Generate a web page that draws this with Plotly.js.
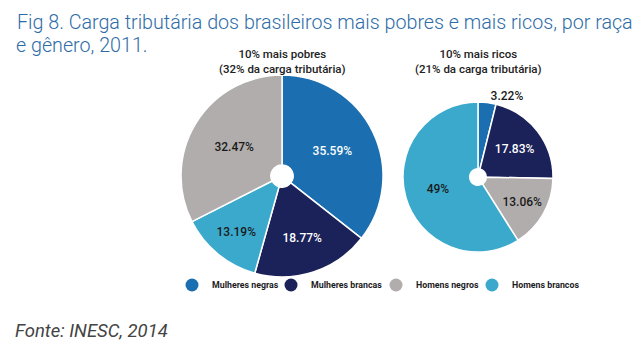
<!DOCTYPE html>
<html>
<head>
<meta charset="utf-8">
<script src="https://cdn.plot.ly/plotly-3.0.1.min.js"></script>
<style>html,body{margin:0;padding:0;background:#fff;}#chart{width:643px;height:353px;}</style>
</head>
<body>
<div id="chart"></div>
<script>
const categories = ["Mulheres negras", "Mulheres brancas", "Homens negros", "Homens brancos"];
const colors = ["#1b6fb1", "#1b2159", "#b1adac", "#3aa9cc"];
const poorValues = [35.59, 18.77, 32.47, 13.19];
const poorOrder = [0, 1, 3, 2]; // clockwise order from 12 o'clock
const richValues = [3.22, 17.83, 13.06, 49];
const richOrder = [0, 1, 2, 3];
const titleLine1 = "Fig 8. Carga tributária dos brasileiros mais pobres e mais ricos, por raça";
const titleLine2 = "e gênero, 2011.";
const poorTitle = "10% mais pobres<br>(32% da carga tributária)";
const richTitle = "10% mais ricos<br>(21% da carga tributária)";
const sourceText = "Fonte: INESC, 2014";
const textColors = ["#ffffff", "#ffffff", "#1a1a1a", "#1a1a1a"];
const legendCenters = [195, 294, 399, 495]; // pixel x of each legend marker

function pieTrace(values, order, domain, positions) {
  return {
    type: "pie",
    labels: order.map(i => categories[i]),
    values: order.map(i => values[i]),
    text: order.map(i => values[i] + "%"),
    textinfo: "text",
    hoverinfo: "label+text",
    sort: false,
    direction: "clockwise",
    rotation: 0,
    hole: 0.11,
    marker: {colors: order.map(i => colors[i]), line: {color: "#ffffff", width: 1.5}},
    textposition: positions,
    insidetextorientation: "horizontal",
    insidetextfont: {family: "Roboto", size: 12, weight: 500, color: order.map(i => textColors[i])},
    outsidetextfont: {family: "Roboto", size: 12, weight: 500, color: "#1a1a1a"},
    showlegend: false,
    domain: domain
  };
}

const traces = [
  pieTrace(poorValues, poorOrder, {x: [0.2815, 0.5957], y: [0.2153, 0.7875]}, "inside"),
  pieTrace(richValues, richOrder, {x: [0.6267, 0.86], y: [0.2861, 0.7111]}, ["outside", "inside", "inside", "inside"])
];
const legendNames = ["legend", "legend2", "legend3", "legend4"];
categories.forEach((c, i) => {
  traces.push({
    type: "scatter", mode: "markers", x: [null], y: [null], name: c,
    marker: {color: colors[i], size: 13, symbol: "circle"},
    hoverinfo: "skip", showlegend: true, legend: legendNames[i]
  });
});

const titleFont = {family: "Roboto", size: 19.7, weight: 300, color: "#2d6ca7"};

const layout = {
  width: 643, height: 353,
  margin: {l: 0, r: 0, t: 0, b: 0, autoexpand: false},
  paper_bgcolor: "#ffffff", plot_bgcolor: "#ffffff",
  xaxis: {visible: false}, yaxis: {visible: false},
  title: {
    text: titleLine1,
    x: 17 / 643, xanchor: "left", xref: "paper",
    y: 1 - 22.5 / 353, yanchor: "middle", yref: "container",
    font: titleFont
  },
  annotations: [
    {text: titleLine2, x: 14 / 643, y: 1 - 45.5 / 353, xref: "paper", yref: "paper", xanchor: "left", yanchor: "middle",
     showarrow: false, font: titleFont},
    {text: poorTitle, x: 282 / 643, y: 1 - 61.5 / 353, xref: "paper", yref: "paper", xanchor: "center", yanchor: "middle",
     showarrow: false, font: {family: "Roboto", size: 11.5, weight: 500, color: "#222222"}},
    {text: richTitle, x: 478 / 643, y: 1 - 61.5 / 353, xref: "paper", yref: "paper", xanchor: "center", yanchor: "middle",
     showarrow: false, font: {family: "Roboto", size: 11.5, weight: 500, color: "#222222"}},
    {text: sourceText, x: 13 / 643, y: 1 - 331 / 353, xref: "paper", yref: "paper", xanchor: "left", yanchor: "middle",
     showarrow: false, font: {family: "Roboto", size: 18.5, style: "italic", color: "#444444"}}
  ]
};
legendNames.forEach((name, i) => {
  layout[name] = {
    orientation: "h", x: (legendCenters[i] - 23) / 643, xanchor: "left", y: 1 - 285 / 353, yanchor: "middle",
    font: {family: "Roboto", size: 8.8, weight: 700, color: "#1c1c24"},
    itemclick: false, itemdoubleclick: false, bgcolor: "rgba(0,0,0,0)"
  };
});

Plotly.newPlot("chart", traces, layout, {displayModeBar: false, staticPlot: true});
</script>
</body>
</html>
